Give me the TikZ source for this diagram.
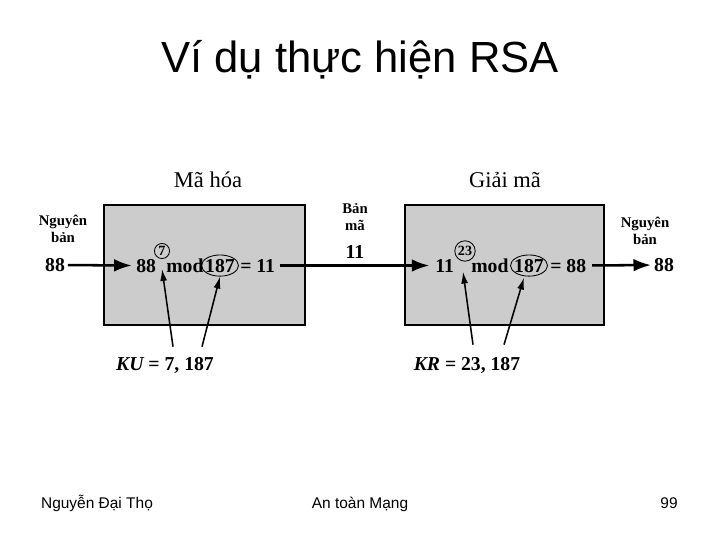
\documentclass[tikz,border=0pt]{standalone}
\usepackage{fontspec}
\setmainfont{Liberation Serif}
\newfontfamily\slidefont{Liberation Sans}
\usetikzlibrary{positioning,arrows.meta,shapes.geometric}
\colorlet{boxGray}{black!20}

\begin{document}
\begin{tikzpicture}[x=0.025cm, y=-0.025cm,
        every node/.style={inner sep=0pt, align=center},
        big/.style={font=\fontsize{14}{16}\selectfont\bfseries},
        small/.style={font=\fontsize{10.5}{12.5}\selectfont\bfseries},
        caption/.style={font=\fontsize{16}{19}\selectfont},
        footer/.style={font=\slidefont\fontsize{11}{13}\selectfont},
        keycirc/.style={draw, circle, line width=0.6pt, inner sep=0.9pt, font=\fontsize{10}{10}\selectfont\bfseries},
        modoval/.style={draw, ellipse, line width=0.6pt, inner xsep=-1.2pt, inner ysep=0.6pt, big},
        flow/.style={-{Latex[length=12.5pt,width=9pt]}, line width=1.8pt},
        keyarrow/.style={-{Latex[length=8.5pt,width=5pt]}, line width=1.1pt},
        stagebox/.style={draw, line width=1.8pt, fill=boxGray, minimum height=3cm}]
    \useasboundingbox (0,0) rectangle (720,540);

    % title
    \node[font=\slidefont\fontsize{31}{36}\selectfont] (title) at (360,60) {Ví dụ thực hiện RSA};

    % the two stages
    \node[stagebox, minimum width=5.025cm] (encbox) at (204.5,265) {};
    \node[stagebox, minimum width=4.975cm] (decbox) at (504.5,265) {};
    \node[caption] (enccap) at (208,180) {Mã hóa};
    \node[caption] (deccap) at (505,180) {Giải mã};

    % encryption
    \node[small] (plainlbl) at (63,229) {Nguyên\\bản};
    \node[big] (in88) at (55,265) {88};
    \node[big, anchor=base west] (encbase) at (136,272) {88};
    \node[keycirc] (encexp) at (162,251) {7};
    \node[big, anchor=base west] (encmod) at (166,272) {mod};
    \node[modoval, anchor=base] (encmodulus) at (220,272) {187};
    \node[big, anchor=base west] (encres) at (240,272) {= 11};
    \node[big] (pubkey) at (165,365) {{\itshape KU} = 7, 187};

    % ciphertext
    \node[small] (cipherlbl) at (355,217) {Bản\\mã};
    \node[big] (cipher11) at (355,252) {11};

    % decryption
    \node[big, anchor=base west] (decbase) at (435,272) {11};
    \node[keycirc] (decexp) at (465,251) {23};
    \node[big, anchor=base west] (decmod) at (471,272) {mod};
    \node[modoval, anchor=base] (decmodulus) at (529,272) {187};
    \node[big, anchor=base west] (decres) at (550,272) {= 88};
    \node[small] (outlbl) at (645,231) {Nguyên\\bản};
    \node[big] (out88) at (664,265) {88};
    \node[big] (privkey) at (467,365) {{\itshape KR} = 23, 187};

    % flow
    \draw[flow, shorten <=2pt, shorten >=3pt] (in88) -- (encbase);
    \draw[flow, shorten <=3pt, shorten >=4pt] (encres) -- (decbase);
    \draw[flow, shorten <=4pt, shorten >=2pt] (decres) -- (out88);

    % keys
    \draw[keyarrow] ([shift={(8,-10)}]pubkey.north) -- ([shift={(0,10)}]encexp.south);
    \draw[keyarrow] ([shift={(37,-10)}]pubkey.north) -- (encmodulus.south);
    \draw[keyarrow] ([shift={(6,-12)}]privkey.north) -- ([shift={(-2,10)}]decexp.south);
    \draw[keyarrow] ([shift={(37,-12)}]privkey.north) -- ([shift={(-5,1)}]decmodulus.south);

    % footer
    \node[footer, anchor=base] (author) at (97,508) {Nguyễn Đại Thọ};
    \node[footer, anchor=base] (course) at (360,508) {An toàn Mạng};
    \node[footer, anchor=base] (pageno) at (669,508) {99};
\end{tikzpicture}
\end{document}
